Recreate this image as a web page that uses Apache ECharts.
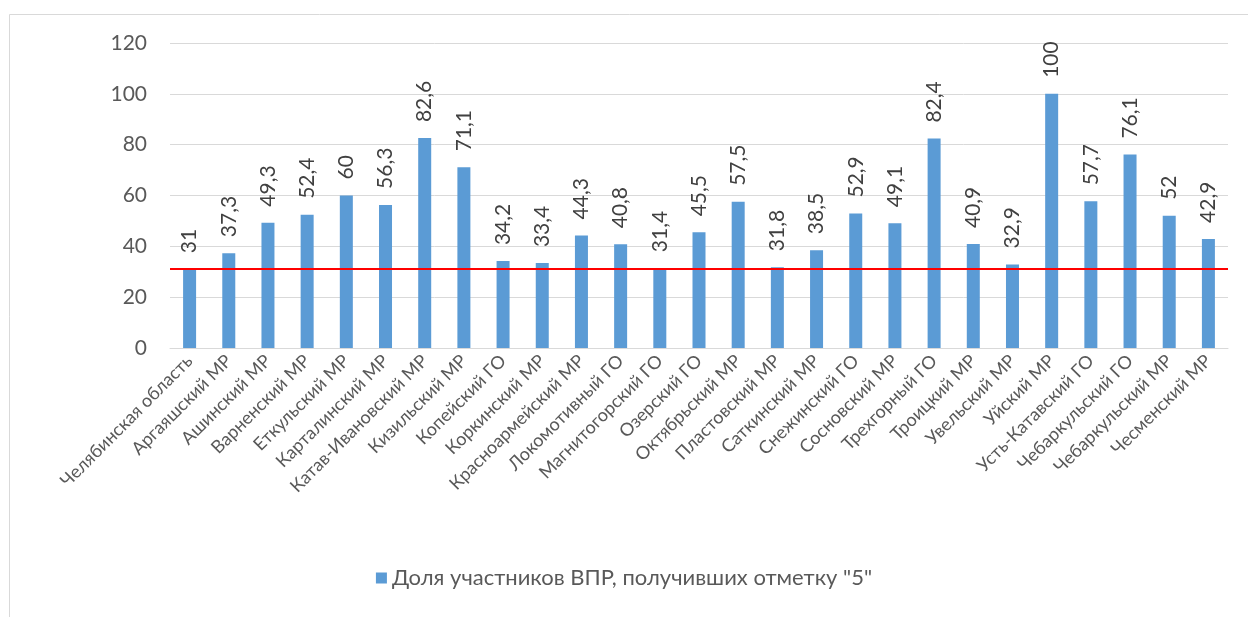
<!DOCTYPE html>
<html>
<head>
<meta charset="utf-8">
<script src="https://cdn.jsdelivr.net/npm/echarts@6/dist/echarts.min.js"></script>
<style>
  html, body { margin: 0; padding: 0; background: #fff; }
  #chart { width: 1248px; height: 617px; }
</style>
</head>
<body>
<div id="chart"></div>
<script>
// Районы и городские округа Челябинской области
const categories = [
  'Челябинская область', 'Аргаяшский МР', 'Ашинский МР', 'Варненский МР', 'Еткульский МР',
  'Карталинский МР', 'Катав-Ивановский МР', 'Кизильский МР', 'Копейский ГО', 'Коркинский МР',
  'Красноармейский МР', 'Локомотивный ГО', 'Магнитогорский ГО', 'Озерский ГО', 'Октябрьский МР',
  'Пластовский МР', 'Саткинский МР', 'Снежинский ГО', 'Сосновский МР', 'Трехгорный ГО',
  'Троицкий МР', 'Увельский МР', 'Уйский МР', 'Усть-Катавский ГО', 'Чебаркульский ГО',
  'Чебаркульский МР', 'Чесменский МР'
];

// Доля участников ВПР, получивших отметку "5", %
const shareOfFives = [
  31, 37.3, 49.3, 52.4, 60, 56.3, 82.6, 71.1, 34.2, 33.4,
  44.3, 40.8, 31.4, 45.5, 57.5, 31.8, 38.5, 52.9, 49.1, 82.4,
  40.9, 32.9, 100, 57.7, 76.1, 52, 42.9
];

// Региональный уровень (опорная линия)
const regionLevel = shareOfFives[0];

const yTicks = { min: 0, max: 120, interval: 20 };

const font = 'Lato, "Open Sans", "Liberation Sans", sans-serif';
const textColor = '#595959';

const chart = echarts.init(document.getElementById('chart'), null, { renderer: 'canvas' });

chart.setOption({
  animation: false,
  backgroundColor: '#ffffff',
  textStyle: { fontFamily: font },
  graphic: [{
    type: 'rect',
    silent: true,
    shape: { x: 9.5, y: 14.5, width: 1250, height: 620 },
    style: { fill: 'none', stroke: '#d9d9d9', lineWidth: 1 }
  }],
  grid: { left: 170, right: 20, top: 43, bottom: 269, containLabel: false },
  legend: {
    bottom: 23,
    left: 'center',
    itemWidth: 11,
    itemHeight: 11,
    itemGap: 6,
    icon: 'rect',
    textStyle: { color: textColor, fontSize: 22, fontFamily: font },
    data: ['Доля участников ВПР, получивших отметку "5"']
  },
  xAxis: {
    type: 'category',
    data: categories,
    boundaryGap: true,
    axisLine: { show: true, lineStyle: { color: '#d9d9d9', width: 1 } },
    axisTick: { show: false },
    axisLabel: {
      interval: 0,
      rotate: 45,
      margin: 10,
      color: textColor,
      fontSize: 18,
      fontFamily: font
    }
  },
  yAxis: {
    type: 'value',
    min: yTicks.min,
    max: yTicks.max,
    interval: yTicks.interval,
    axisLine: { show: false },
    axisTick: { show: false },
    splitLine: { lineStyle: { color: '#d9d9d9', width: 1 } },
    axisLabel: { color: textColor, fontSize: 21, margin: 23, fontFamily: font }
  },
  series: [{
    name: 'Доля участников ВПР, получивших отметку "5"',
    type: 'bar',
    data: shareOfFives,
    barWidth: 13,
    itemStyle: { color: '#5b9bd5' },
    label: {
      show: true,
      position: 'top',
      rotate: 90,
      align: 'left',
      verticalAlign: 'middle',
      distance: 16,
      color: '#404040',
      fontSize: 21,
      fontFamily: font,
      formatter: p => String(p.value).replace('.', ',')
    },
    markLine: {
      silent: true,
      symbol: 'none',
      label: { show: false },
      lineStyle: { color: '#ff0000', width: 2, type: 'solid' },
      data: [{ yAxis: regionLevel }]
    }
  }]
});
</script>
</body>
</html>
